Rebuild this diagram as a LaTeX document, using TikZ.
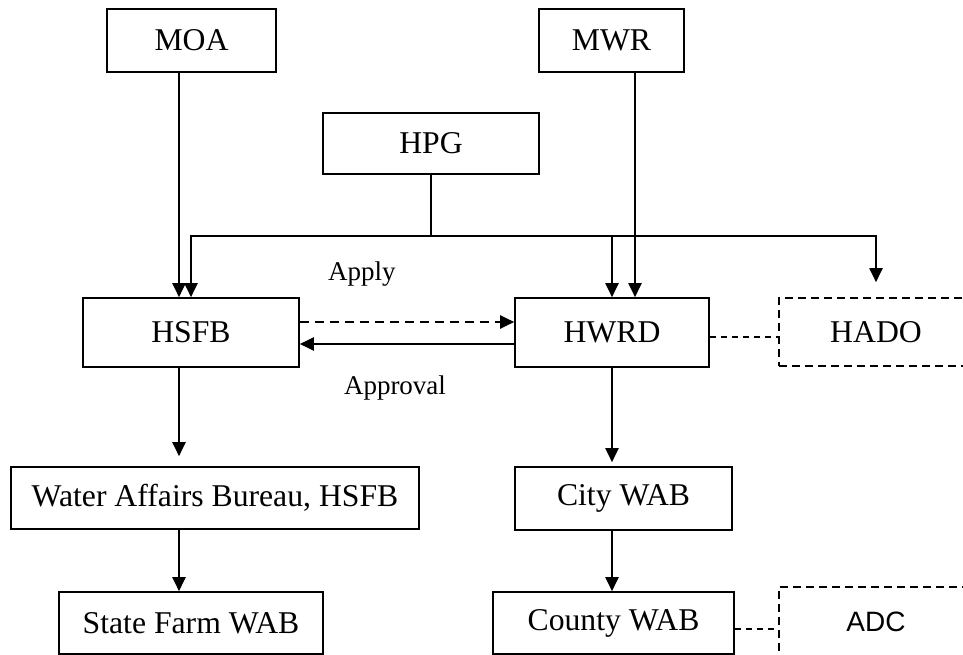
\documentclass[tikz,border=0pt]{standalone}
\usepackage{fontspec}
\setmainfont{Liberation Serif}
\newfontfamily\adcfont{Liberation Sans}
\usetikzlibrary{arrows.meta,calc}

\begin{document}
\begin{tikzpicture}[x=1pt, y=-1pt, >={Triangle[width=13pt,length=14pt]},
    unit/.style={draw, line width=1.6pt, inner sep=0pt, font=\fontsize{31.7}{37}\selectfont},
    other/.style={unit, dash pattern=on 8pt off 5pt},
    link/.style={line width=2pt},
    note/.style={inner sep=0pt, font=\fontsize{27}{32}\selectfont}]
    \useasboundingbox (0,0) rectangle (963,655);
    \clip (0,0) rectangle (963,655);

    \node[unit, minimum width=169pt, minimum height=63pt] (moa) at (191.5,40.5) {MOA};
    \node[unit, minimum width=145pt, minimum height=63pt] (mwr) at (611.5,40.5) {MWR};
    \node[unit, minimum width=216pt, minimum height=61pt] (hpg) at (431,143.5) {HPG};
    \node[unit, minimum width=216pt, minimum height=69pt] (hsfb) at (191,332.5) {HSFB};
    \node[unit, minimum width=194pt, minimum height=69pt] (hwrd) at (612,332.5) {HWRD};
    \node[other, minimum width=194pt, minimum height=68pt] (hado) at (876,332) {HADO};
    \node[unit, minimum width=408pt, minimum height=62pt] (wab) at (215,498) {Water Affairs Bureau, HSFB};
    \node[unit, minimum width=217pt, minimum height=63pt] (city) at (623.5,498.5) {City WAB};
    \node[unit, minimum width=264pt, minimum height=62pt] (farm) at (191,623) {State Farm WAB};
    \node[unit, minimum width=241pt, minimum height=62pt] (county) at (613.5,623) {County WAB};
    \node[other, minimum width=194pt, minimum height=76pt, font=\adcfont\fontsize{28}{33}\selectfont] (adc) at (876,625) {\raisebox{6pt}{ADC}};

    % ministries down to the bureaus
    \coordinate (hub) at (431,236);
    \draw[link, ->] ([xshift=-12.5pt]moa.south) -- ([xshift=-12.5pt]moa.south |- hsfb.north);
    \draw[link, ->] ([xshift=23.5pt]mwr.south) -- ([xshift=23.5pt]mwr.south |- hwrd.north);
    \draw[link] (hpg.south) -- (hub);
    \draw[link, ->] (hub) -| (hsfb.north);
    \draw[link, ->] (hub) -| (hwrd.north);
    \draw[link, ->] (hwrd.north |- hub) -| ([yshift=15pt]hado.north);

    % apply and approval
    \draw[link, ->, dash pattern=on 9pt off 6pt] ([yshift=10.5pt]hsfb.east) -- ([yshift=10.5pt]hsfb.east -| hwrd.west)
        node[note, pos=0.29, above=35pt] {Apply};
    \draw[link, ->] ([yshift=-11.5pt]hwrd.west) -- ([yshift=-11.5pt]hwrd.west -| hsfb.east)
        node[note, pos=0.556, below=31pt] {Approval};
    \draw[line width=1.4pt, dash pattern=on 6pt off 5pt] ([yshift=-4.5pt]hwrd.east) -- ([yshift=-4.5pt]hwrd.east -| hado.west);

    % lower levels
    \draw[link, ->, shorten >=10pt] ([xshift=-12pt]hsfb.south) -- ([xshift=-12pt]hsfb.south |- wab.north);
    \draw[link, ->] ([xshift=-36pt]wab.south) -- ([xshift=-36pt]wab.south |- farm.north);
    \draw[link, ->, shorten >=4pt] (hwrd.south) -- (hwrd.south |- city.north);
    \draw[link, ->] ([xshift=-11.5pt]city.south) -- ([xshift=-11.5pt]city.south |- county.north);
    \draw[line width=1.4pt, dash pattern=on 6pt off 5pt] ([yshift=-6pt]county.east) -- ([yshift=-6pt]county.east -| adc.west);
\end{tikzpicture}
\end{document}
